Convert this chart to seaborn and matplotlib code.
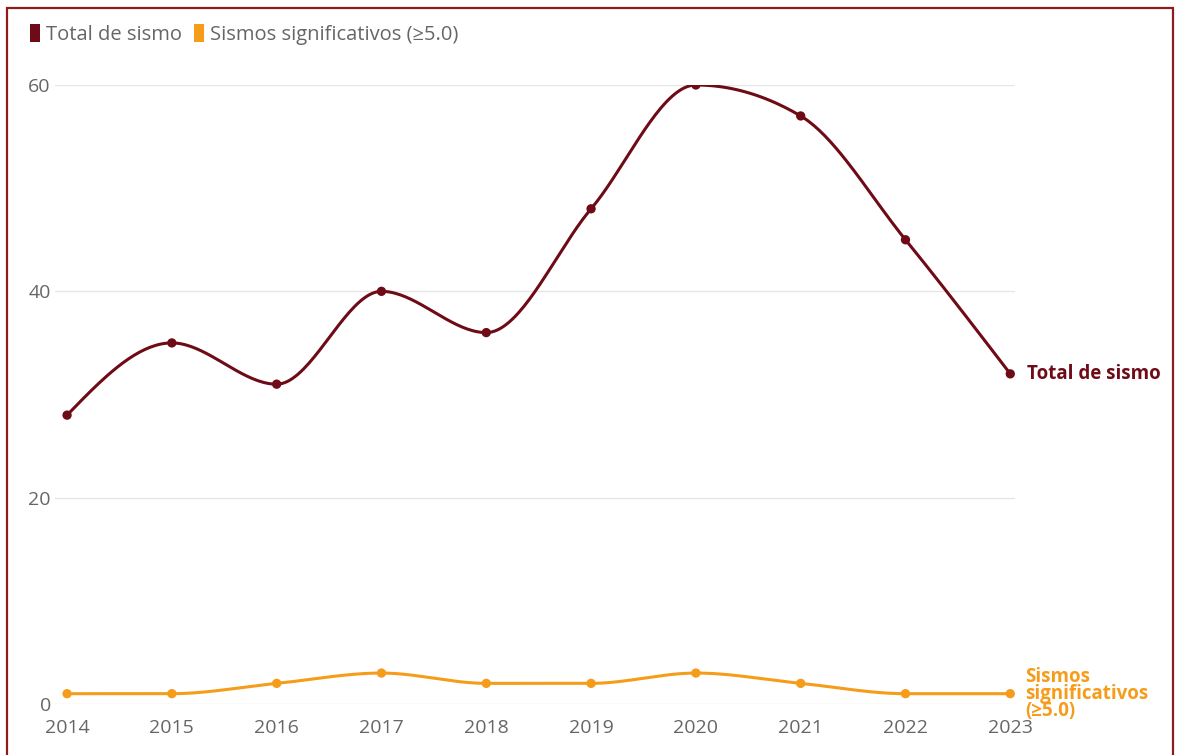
import matplotlib
matplotlib.use("Agg")
import matplotlib.pyplot as plt
from matplotlib.patches import Patch, Rectangle
import numpy as np
import seaborn as sns

# datos
anios = [2014, 2015, 2016, 2017, 2018, 2019, 2020, 2021, 2022, 2023]
total_sismos = [28, 35, 31, 40, 36, 48, 60, 57, 45, 32]
sismos_signif = [1, 1, 2, 3, 2, 2, 3, 2, 1, 1]
y_ticks = [0, 20, 40, 60]

rojo = "#6e0b16"
naranja = "#f59d1a"
gris = "#666666"


def curva_monotona(x, y, n=40):
    # trazo suave tipo d3 curveMonotoneX, solo para dibujar la linea
    x = np.asarray(x, float)
    y = np.asarray(y, float)
    h = np.diff(x)
    s = np.diff(y) / h
    t = np.zeros_like(y)
    for i in range(1, len(y) - 1):
        p = (s[i - 1] * h[i] + s[i] * h[i - 1]) / (h[i - 1] + h[i])
        t[i] = (np.sign(s[i - 1]) + np.sign(s[i])) * min(abs(s[i - 1]), abs(s[i]), 0.5 * abs(p))
    t[0] = (3 * s[0] - t[1]) / 2
    t[-1] = (3 * s[-1] - t[-2]) / 2
    xs, ys = [], []
    for i in range(len(h)):
        u = np.linspace(0, 1, n)
        h00 = 2 * u**3 - 3 * u**2 + 1
        h10 = u**3 - 2 * u**2 + u
        h01 = -2 * u**3 + 3 * u**2
        h11 = u**3 - u**2
        xs.append(x[i] + u * h[i])
        ys.append(h00 * y[i] + h10 * h[i] * t[i] + h01 * y[i + 1] + h11 * h[i] * t[i + 1])
    return np.concatenate(xs), np.concatenate(ys)


sns.set_style("white")
plt.rcParams['font.family'] = ['Open Sans', 'DejaVu Sans']

fig = plt.figure(figsize=(11.8, 7.55), dpi=100)
ax = fig.add_axes([55 / 1180, 51 / 755, 960 / 1180, 619 / 755])

for serie, color in [(total_sismos, rojo), (sismos_signif, naranja)]:
    cx, cy = curva_monotona(anios, serie)
    ax.plot(cx, cy, color=color, lw=2.2, solid_capstyle="round", zorder=3)
    sns.scatterplot(x=anios, y=serie, color=color, s=45, edgecolor="none", zorder=4, ax=ax)

ax.set_xlim(2013.885, 2023.045)
ax.set_ylim(0, 60)
ax.set_yticks(y_ticks)
ax.set_xticks(anios)
ax.set_xticklabels([str(a) for a in anios])
ax.yaxis.grid(True, color="#e6e6e6", lw=1)
ax.xaxis.grid(False)
for sp in ax.spines.values():
    sp.set_visible(False)
ax.tick_params(axis="both", length=0, labelsize=14, labelcolor=gris)
ax.tick_params(axis="x", pad=11)
ax.tick_params(axis="y", pad=3)
ax.set_xlabel("")
ax.set_ylabel("")

# etiquetas al final de cada linea
ax.annotate("Total de sismo", xy=(anios[-1], total_sismos[-1]), xytext=(12, 0),
            textcoords="offset points", color=rojo, fontsize=13.5, fontweight="bold",
            va="center", ha="left")
ax.annotate("Sismos\nsignificativos\n(≥5.0)", xy=(anios[-1], sismos_signif[-1]), xytext=(11, 0),
            textcoords="offset points", color=naranja, fontsize=13.5, fontweight="bold",
            va="center", ha="left", linespacing=0.8, annotation_clip=False)

handles = [Patch(facecolor=rojo, edgecolor="none"), Patch(facecolor=naranja, edgecolor="none")]
fig.legend(handles, ["Total de sismo", "Sismos significativos (≥5.0)"], loc="upper left",
           bbox_to_anchor=(12 / 1180, 1 - 6 / 755), ncol=2, frameon=False, fontsize=14.5,
           handlelength=0.5, handleheight=1.0, handletextpad=0.3, columnspacing=0.6,
           labelcolor=gris)

fig.patches.append(Rectangle((7 / 1180, -0.01), 1166 / 1180, 1 - 8 / 755 + 0.01,
                             transform=fig.transFigure, fill=False, edgecolor="#8e1c1c", lw=1.6))

fig.savefig("out.png", dpi=100)
